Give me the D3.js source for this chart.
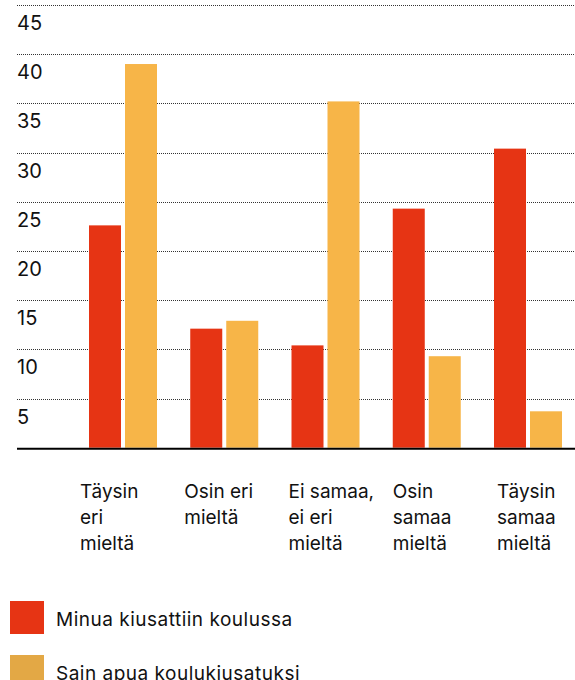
<!DOCTYPE html>
<html>
<head>
<meta charset="utf-8">
<script src="https://cdn.jsdelivr.net/npm/d3@7"></script>
<style>
  body { margin: 0; background: #fff; }
  text { font-family: Inter, "Noto Sans", sans-serif; fill: #111; }
</style>
</head>
<body>
<div id="chart"></div>
<script>
// data
const categories = ["Täysin eri mieltä", "Osin eri mieltä", "Ei samaa, ei eri mieltä", "Osin samaa mieltä", "Täysin samaa mieltä"];
const categoryLines = [["Täysin", "eri", "mieltä"], ["Osin eri", "mieltä"], ["Ei samaa,", "ei eri", "mieltä"], ["Osin", "samaa", "mieltä"], ["Täysin", "samaa", "mieltä"]];
const seriesNames = ["Minua kiusattiin koulussa", "Sain apua koulukiusatuksi"];
const bullied = [22.6, 12.1, 10.4, 24.3, 30.4];
const gotHelp = [39.0, 12.9, 35.2, 9.3, 3.7];
const yTicks = [5, 10, 15, 20, 25, 30, 35, 40, 45];

const colors = {bars: ["#e63414", "#f7b548"], legend: ["#e63414", "#e3a845"], grid: "#333"};

const width = 575, height = 680;
const svg = d3.select("#chart").append("svg")
    .attr("width", width)
    .attr("height", height);

const y = d3.scaleLinear().domain([0, 45]).range([447.7, 5]);
const x0 = d3.scaleBand().domain(categories).range([72, 578.25]);
const x1 = d3.scaleBand().domain([0, 1]).range([17, 85]).paddingInner(0.111);
const labelX = d3.scalePoint().domain(categories).range([80, 497]);

// grid lines + y labels
const grid = svg.append("g");
grid.selectAll("line")
    .data(yTicks)
    .join("line")
    .attr("x1", 17).attr("x2", width)
    .attr("y1", d => Math.round(y(d)) + 0.5)
    .attr("y2", d => Math.round(y(d)) + 0.5)
    .attr("stroke", colors.grid)
    .attr("stroke-dasharray", "1,1");

grid.selectAll("text")
    .data(yTicks)
    .join("text")
    .attr("x", 17)
    .attr("y", d => y(d) + 25)
    .attr("font-size", 20)
    .text(d => d);

// bars
const groups = svg.append("g")
    .selectAll("g")
    .data(categories.map((c, i) => ({c, vals: [bullied[i], gotHelp[i]]})))
    .join("g")
    .attr("transform", d => `translate(${x0(d.c)},0)`);

groups.selectAll("rect")
    .data(d => d.vals)
    .join("rect")
    .attr("x", (d, i) => x1(i))
    .attr("width", x1.bandwidth())
    .attr("y", d => y(d))
    .attr("height", d => y(0) - y(d))
    .attr("fill", (d, i) => colors.bars[i]);

// baseline
svg.append("line")
    .attr("x1", 17).attr("x2", width)
    .attr("y1", y(0) + 1).attr("y2", y(0) + 1)
    .attr("stroke", "#000")
    .attr("stroke-width", 2);

// x labels
svg.append("g")
    .selectAll("text")
    .data(categories)
    .join("text")
    .attr("x", d => labelX(d))
    .attr("y", 497.7)
    .attr("font-size", 19)
    .each(function(d, i) {
        d3.select(this).selectAll("tspan")
            .data(categoryLines[i])
            .join("tspan")
            .attr("x", labelX(d))
            .attr("dy", (t, j) => j === 0 ? 0 : 26)
            .text(t => t);
    });

// legend
const legend = svg.append("g")
    .selectAll("g")
    .data(seriesNames)
    .join("g")
    .attr("transform", (d, i) => `translate(10,${601 + i * 54})`);

legend.append("rect")
    .attr("width", 34).attr("height", 33)
    .attr("fill", (d, i) => colors.legend[i]);

legend.append("text")
    .attr("x", 46)
    .attr("y", 25)
    .attr("font-size", 19)
    .attr("letter-spacing", 0.5)
    .text(d => d);
</script>
</body>
</html>
